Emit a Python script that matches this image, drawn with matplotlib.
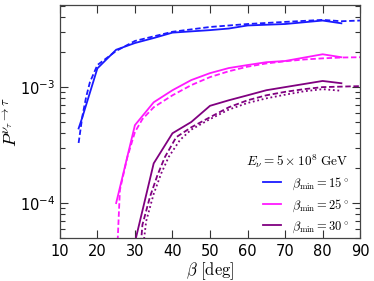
import numpy as np
import matplotlib
matplotlib.use('Agg')
import matplotlib.pyplot as plt
from matplotlib.lines import Line2D

plt.rcParams['mathtext.fontset'] = 'cm'
plt.rcParams['font.family'] = 'DejaVu Sans'

# beta_min = 15 deg
b15_x = [15, 16, 20, 25, 30, 35, 40, 50, 55, 60, 70, 80, 85]
b15_y = [4.4e-4, 5.5e-4, 1.45e-3, 2.1e-3, 2.4e-3, 2.65e-3, 2.95e-3, 3.1e-3, 3.2e-3, 3.4e-3, 3.5e-3, 3.75e-3, 3.55e-3]
b15d_x = [15, 16, 17, 18, 20, 25, 30, 40, 50, 60, 70, 80, 85, 90]
b15d_y = [3.3e-4, 5.6e-4, 8.2e-4, 1.1e-3, 1.55e-3, 2.05e-3, 2.5e-3, 3.0e-3, 3.3e-3, 3.5e-3, 3.65e-3, 3.8e-3, 3.7e-3, 3.75e-3]

# beta_min = 25 deg
b25_x = [25, 30, 35, 40, 45, 50, 55, 60, 65, 70, 80, 85]
b25_y = [1.0e-4, 4.7e-4, 7.4e-4, 9.4e-4, 1.15e-3, 1.32e-3, 1.46e-3, 1.55e-3, 1.64e-3, 1.68e-3, 1.92e-3, 1.81e-3]
b25d_x = [25.3, 26, 28, 30, 32, 35, 40, 45, 50, 55, 60, 65, 70, 75, 80, 85, 90]
b25d_y = [4e-5, 1.3e-4, 2.5e-4, 4.1e-4, 5.3e-4, 6.7e-4, 8.5e-4, 1.04e-3, 1.22e-3, 1.37e-3, 1.5e-3, 1.6e-3, 1.67e-3, 1.73e-3, 1.77e-3, 1.8e-3, 1.81e-3]

# beta_min = 30 deg
b30_x = [30, 35, 40, 45, 50, 55, 60, 65, 70, 80, 85]
b30_y = [4.6e-5, 2.2e-4, 4.0e-4, 5.0e-4, 6.9e-4, 7.7e-4, 8.5e-4, 9.4e-4, 1.0e-3, 1.13e-3, 1.08e-3]
b30d_x = [31.6, 32, 34, 36, 38, 41, 45, 50, 55, 60, 65, 70, 75, 80, 85, 90]
b30d_y = [4.5e-5, 6.5e-5, 1.13e-4, 1.74e-4, 2.5e-4, 3.7e-4, 4.5e-4, 5.5e-4, 6.7e-4, 7.7e-4, 8.5e-4, 9.1e-4, 9.6e-4, 1.0e-3, 1.01e-3, 1.02e-3]
b30o_x = [32.3, 33, 35, 37, 39, 42, 45, 50, 55, 60, 65, 70, 75, 80, 85]
b30o_y = [4.5e-5, 7e-5, 1.2e-4, 1.8e-4, 2.5e-4, 3.5e-4, 4.3e-4, 5.3e-4, 6.4e-4, 7.3e-4, 8.0e-4, 8.6e-4, 9.2e-4, 9.6e-4, 9.3e-4]

c15 = '#1a1aff'
c25 = '#ff19ff'
c30 = '#800080'

fig = plt.figure(figsize=(3.74, 2.81), dpi=100)
ax = fig.add_axes([0.160, 0.153, 0.803, 0.829])

ax.plot(b15_x, b15_y, color=c15, lw=1.3)
ax.plot(b15d_x, b15d_y, color=c15, lw=1.3, ls=(0, (3, 1.5)))
ax.plot(b25_x, b25_y, color=c25, lw=1.3)
ax.plot(b25d_x, b25d_y, color=c25, lw=1.3, ls=(0, (3, 1.5)))
ax.plot(b30_x, b30_y, color=c30, lw=1.3)
ax.plot(b30d_x, b30d_y, color=c30, lw=1.3, ls=(0, (3, 1.5)))
ax.plot(b30o_x, b30o_y, color=c30, lw=1.3, ls=(0, (1, 1.5)))

ax.set_yscale('log')
ax.set_xlim(10, 90)
ax.set_ylim(5e-5, 5.1e-3)
ax.set_xticks(np.arange(10, 91, 10))
ax.tick_params(which='both', direction='in', top=True, right=True, labelsize=10.5, colors='#333333', labelcolor='black')
ax.tick_params(which='major', length=6, width=0.8)
ax.tick_params(which='minor', length=3.5, width=0.8)
ax.tick_params(axis='x', pad=4)
for s in ax.spines.values():
    s.set_color('#444444')
    s.set_linewidth(0.9)

ax.set_xlabel(r'$\beta\ [\mathrm{deg}]$', fontsize=12, labelpad=1)
ax.set_ylabel(r'$P^{\nu_\tau\to\tau}$', fontsize=13)
ax.yaxis.set_label_coords(-0.13, 0.5)

handles = [Line2D([], [], color=c15, lw=1.3),
           Line2D([], [], color=c25, lw=1.3),
           Line2D([], [], color=c30, lw=1.3)]
labels = [r'$\beta_{\rm min} = 15^\circ$', r'$\beta_{\rm min} = 25^\circ$', r'$\beta_{\rm min} = 30^\circ$']
leg = ax.legend(handles, labels, loc='lower right', frameon=False, fontsize=9,
                title=r'$E_\nu = 5\times 10^8\ \mathrm{GeV}$', title_fontsize=9.5,
                alignment='right', handlelength=1.4, handletextpad=0.9,
                labelspacing=0.45, bbox_to_anchor=(1.0, -0.035))

fig.savefig('out.png', dpi=100)
